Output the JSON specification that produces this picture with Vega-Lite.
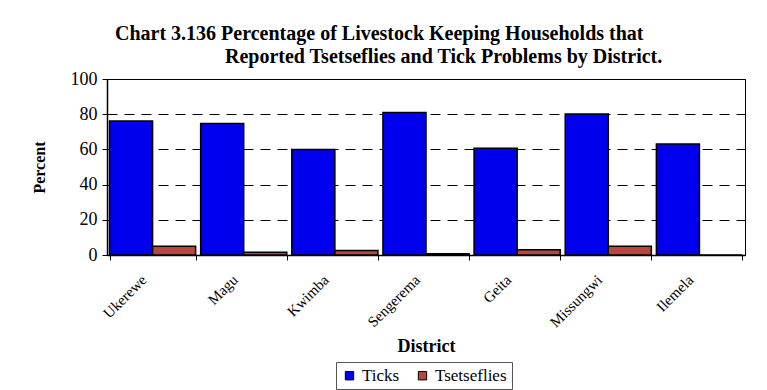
{
  "$schema": "https://vega.github.io/schema/vega-lite/v6.json",
  "width": 638,
  "height": 176,
  "autosize": {"type": "none"},
  "padding": {"left": 107, "top": 79, "right": 22, "bottom": 135},
  "background": "white",
  "title": {
    "text": [
      "Chart 3.136 Percentage of Livestock Keeping Households that",
      "\u200B\u2003\u2003\u2003\u2003\u2003\u2002Reported Tsetseflies and Tick Problems by District."
    ],
    "anchor": "start",
    "frame": "group",
    "dx": 8,
    "offset": 3,
    "font": "Liberation Serif",
    "fontSize": 20,
    "fontWeight": "bold",
    "lineHeight": 23,
    "color": "black"
  },
  "data": {
    "values": [
      {"district": "Ukerewe", "type": "Ticks", "value": 76.1},
      {"district": "Ukerewe", "type": "Tsetseflies", "value": 5.0},
      {"district": "Magu", "type": "Ticks", "value": 74.7},
      {"district": "Magu", "type": "Tsetseflies", "value": 1.5},
      {"district": "Kwimba", "type": "Ticks", "value": 60.0},
      {"district": "Kwimba", "type": "Tsetseflies", "value": 2.5},
      {"district": "Sengerema", "type": "Ticks", "value": 81.0},
      {"district": "Sengerema", "type": "Tsetseflies", "value": 0.7},
      {"district": "Geita", "type": "Ticks", "value": 60.7},
      {"district": "Geita", "type": "Tsetseflies", "value": 3.0},
      {"district": "Missungwi", "type": "Ticks", "value": 80.1},
      {"district": "Missungwi", "type": "Tsetseflies", "value": 5.0},
      {"district": "Ilemela", "type": "Ticks", "value": 63.1},
      {"district": "Ilemela", "type": "Tsetseflies", "value": 0}
    ]
  },
  "mark": {"type": "bar", "stroke": "black", "strokeWidth": 1.5},
  "encoding": {
    "x": {
      "field": "district",
      "type": "nominal",
      "sort": ["Ukerewe", "Magu", "Kwimba", "Sengerema", "Geita", "Missungwi", "Ilemela"],
      "scale": {"paddingInner": 0.055, "paddingOuter": 0.0275},
      "axis": {
        "title": "District",
        "titleFont": "Liberation Serif",
        "titleFontSize": 18,
        "titleFontWeight": "bold",
        "titleColor": "black",
        "titlePadding": 8,
        "labelAngle": -45,
        "labelFont": "Liberation Serif",
        "labelFontSize": 15,
        "labelColor": "black",
        "labelPadding": 12,
        "labelOffset": -14,
        "tickBand": "extent",
        "tickColor": "black",
        "tickSize": 5,
        "domainColor": "black",
        "domainWidth": 1.5
      }
    },
    "xOffset": {"field": "type", "type": "nominal", "sort": ["Ticks", "Tsetseflies"]},
    "y": {
      "field": "value",
      "type": "quantitative",
      "scale": {"domain": [0, 100]},
      "axis": {
        "title": "Percent",
        "titleFont": "Liberation Serif",
        "titleFontSize": 16,
        "titleFontWeight": "bold",
        "titleColor": "black",
        "titlePadding": 23,
        "values": [0, 20, 40, 60, 80, 100],
        "labelFont": "Liberation Serif",
        "labelFontSize": 18,
        "labelColor": "black",
        "labelPadding": 5,
        "tickColor": "black",
        "tickSize": 5,
        "domainColor": "black",
        "domainWidth": 1.5,
        "grid": true,
        "gridColor": "black",
        "gridDash": [10, 7],
        "gridWidth": 1
      }
    },
    "color": {
      "field": "type",
      "type": "nominal",
      "scale": {"domain": ["Ticks", "Tsetseflies"], "range": ["#0000EE", "#B4483C"]},
      "legend": {
        "title": null,
        "orient": "none",
        "direction": "horizontal",
        "legendX": 229,
        "legendY": 283,
        "strokeColor": "#555555",
        "padding": 5,
        "symbolType": "square",
        "symbolSize": 70,
        "symbolStrokeColor": "black",
        "symbolStrokeWidth": 1,
        "labelFont": "Liberation Serif",
        "labelFontSize": 17,
        "labelColor": "black",
        "columnPadding": 14
      }
    }
  },
  "config": {
    "font": "Liberation Serif",
    "view": {"stroke": "black", "strokeWidth": 1}
  }
}
